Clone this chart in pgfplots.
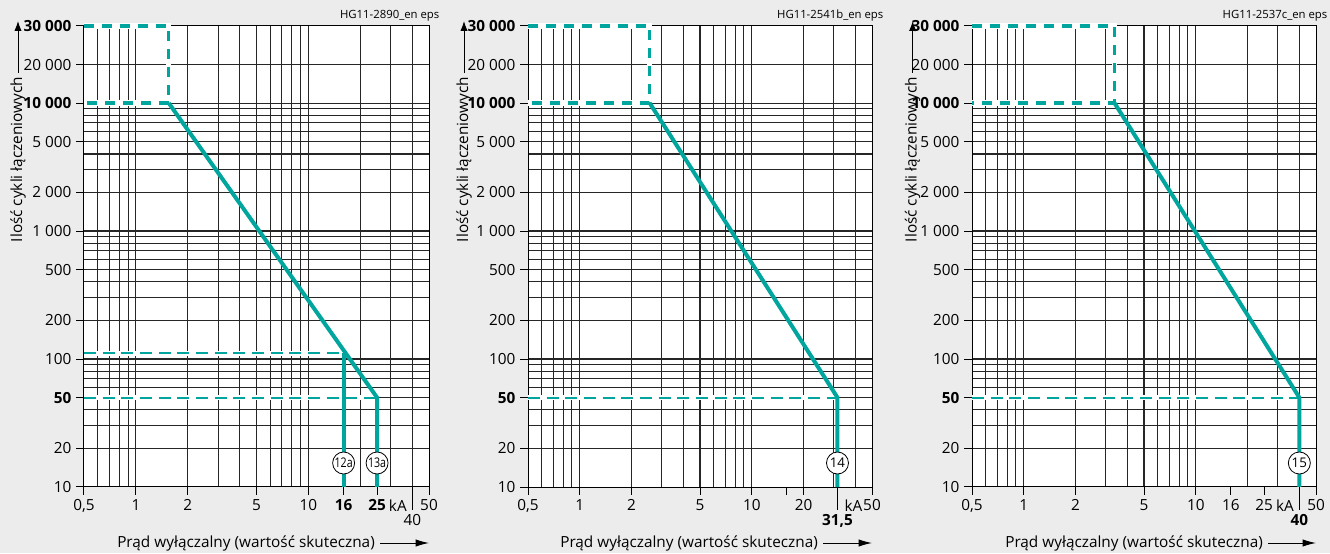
\documentclass[border=0pt]{standalone}
\usepackage{pgfplots}
\pgfplotsset{compat=1.18}
\usepackage{fontspec}
\setmainfont{Open Sans}
\usepackage{graphicx}
\usetikzlibrary{arrows.meta}

\definecolor{bgcol}{RGB}{236,236,236}
\definecolor{curvecol}{RGB}{0,166,158}

\newcommand{\lblfont}{\fontsize{11.5}{13}\selectfont}

\tikzset{
  hgdashtop/.style={curvecol, line width=2.5pt, dash pattern=on 7.5pt off 6pt},
  hgdashlow/.style={curvecol, line width=1.5pt, dash pattern=on 9pt off 5pt},
  hgunder/.style={white, line width=4pt},
  hgcurve/.style={curvecol, line width=3pt},
  hgcirc/.style={circle, draw=black, line width=0.6pt, fill=white,
               minimum size=16.5pt, inner sep=0pt, font=\fontsize{10}{10}\selectfont},
}

\begin{document}
\begin{tikzpicture}
\path[use as bounding box] (0,0) rectangle (997.5pt,414.75pt);
\clip (0,0) rectangle (997.5pt,414.75pt);
\fill[bgcol] (0,0) rectangle (997.5pt,414.75pt);

% panel 1
\begin{axis}[
  at={(63pt,49.5pt)}, anchor=south west, scale only axis, clip=false,
  width=258.75pt, height=345.75pt,
  xmode=log, ymode=log,
  xmin=0.5, xmax=50, ymin=10, ymax=40000,
  axis background/.style={fill=white},
  axis line style={black, line width=0.75pt},
  tick align=outside, tick pos=left,
  major tick length=6pt,
  major tick style={black, line width=0.75pt},
  minor tick length=0pt,
  xminorgrids=true, yminorgrids=true,
  minor grid style={black!85, line width=0.8pt},
  minor xtick={0.6,0.7,0.8,0.9,1,2,3,4,5,6,7,8,9,10,20,30,40},
  minor ytick={20,30,40,50,60,70,80,90,100,200,300,400,500,600,700,800,900,
               1000,2000,3000,4000,5000,6000,7000,8000,9000,10000,20000},
  ytick={10,20,50,100,200,500,1000,2000,5000,10000,20000,40000},
  yticklabels={10,20,\textbf{50},100,200,500,1 000,2 000,5 000,
               \textbf{10 000},20 000,\textbf{30 000}},
  tick label style={font=\lblfont},
  xtick={0.5,1,2,5,10,16,25,50},
  xticklabels={{0,5},1,2,5,10,\textbf{16},\textbf{25},50},
  extra x ticks={40}, extra x tick labels={40},
  extra x tick style={major tick length=17.25pt}]
\addplot[hgunder] coordinates {(0.5,40000) (1.55,40000) (1.55,10000) (0.5,10000)};
\addplot[hgdashtop] coordinates {(0.5,40000) (1.55,40000) (1.55,10000) (0.5,10000)};
\addplot[hgunder] coordinates {(0.5,111) (16,111)};
\addplot[hgdashlow] coordinates {(0.5,111) (16,111)};
\addplot[hgunder] coordinates {(0.5,50) (25,50)};
\addplot[hgdashlow] coordinates {(0.5,50) (25,50)};
\addplot[hgcurve] coordinates {(1.55,10000) (25,50) (25,10)};
\addplot[hgcurve] coordinates {(16,111) (16,10)};
\node[hgcirc] at (axis cs:16,15.4) {\scalebox{0.8}[1]{12a}};
\node[hgcirc] at (axis cs:25,15.4) {\scalebox{0.8}[1]{13a}};
\node[anchor=north, font=\lblfont] at ([yshift=-6pt]axis cs:33,10) {kA};
\end{axis}

% panel 2
\begin{axis}[
  at={(396pt,49.5pt)}, anchor=south west, scale only axis, clip=false,
  width=258pt, height=345.75pt,
  xmode=log, ymode=log,
  xmin=0.5, xmax=50, ymin=10, ymax=40000,
  axis background/.style={fill=white},
  axis line style={black, line width=0.75pt},
  tick align=outside, tick pos=left,
  major tick length=6pt,
  major tick style={black, line width=0.75pt},
  minor tick length=0pt,
  xminorgrids=true, yminorgrids=true,
  minor grid style={black!85, line width=0.8pt},
  minor xtick={0.6,0.7,0.8,0.9,1,2,3,4,5,6,7,8,9,10,20,30,40},
  minor ytick={20,30,40,50,60,70,80,90,100,200,300,400,500,600,700,800,900,
               1000,2000,3000,4000,5000,6000,7000,8000,9000,10000,20000},
  ytick={10,20,50,100,200,500,1000,2000,5000,10000,20000,40000},
  yticklabels={10,20,\textbf{50},100,200,500,1 000,2 000,5 000,
               \textbf{10 000},20 000,\textbf{30 000}},
  tick label style={font=\lblfont},
  xtick={0.5,1,2,5,10,16,20,50},
  xticklabels={{0,5},1,2,5,10,{},20,50},
  extra x ticks={31.5}, extra x tick labels={\textbf{31,5}},
  extra x tick style={major tick length=17.25pt}]
\addplot[hgunder] coordinates {(0.5,40000) (2.55,40000) (2.55,10000) (0.5,10000)};
\addplot[hgdashtop] coordinates {(0.5,40000) (2.55,40000) (2.55,10000) (0.5,10000)};
\addplot[hgunder] coordinates {(0.5,50) (31.5,50)};
\addplot[hgdashlow] coordinates {(0.5,50) (31.5,50)};
\addplot[hgcurve] coordinates {(2.55,10000) (31.5,50) (31.5,10)};
\node[hgcirc] at (axis cs:31.5,15.4) {14};
\node[anchor=north, font=\lblfont] at ([yshift=-6pt]axis cs:39,10) {kA};
\end{axis}

% panel 3
\begin{axis}[
  at={(729pt,49.5pt)}, anchor=south west, scale only axis, clip=false,
  width=258pt, height=345.75pt,
  xmode=log, ymode=log,
  xmin=0.5, xmax=50, ymin=10, ymax=40000,
  axis background/.style={fill=white},
  axis line style={black, line width=0.75pt},
  tick align=outside, tick pos=left,
  major tick length=6pt,
  major tick style={black, line width=0.75pt},
  minor tick length=0pt,
  xminorgrids=true, yminorgrids=true,
  minor grid style={black!85, line width=0.8pt},
  minor xtick={0.6,0.7,0.8,0.9,1,2,3,4,5,6,7,8,9,10,20,30,40},
  minor ytick={20,30,40,50,60,70,80,90,100,200,300,400,500,600,700,800,900,
               1000,2000,3000,4000,5000,6000,7000,8000,9000,10000,20000},
  ytick={10,20,50,100,200,500,1000,2000,5000,10000,20000,40000},
  yticklabels={10,20,\textbf{50},100,200,500,1 000,2 000,5 000,
               \textbf{10 000},20 000,\textbf{30 000}},
  tick label style={font=\lblfont},
  xtick={0.5,1,2,5,10,16,25,50},
  xticklabels={{0,5},1,2,5,10,16,25,50},
  extra x ticks={40}, extra x tick labels={\textbf{40}},
  extra x tick style={major tick length=17.25pt}]
\addplot[hgunder] coordinates {(0.5,40000) (3.37,40000) (3.37,10000) (0.5,10000)};
\addplot[hgdashtop] coordinates {(0.5,40000) (3.37,40000) (3.37,10000) (0.5,10000)};
\addplot[hgunder] coordinates {(0.5,50) (40,50)};
\addplot[hgdashlow] coordinates {(0.5,50) (40,50)};
\addplot[hgcurve] coordinates {(3.37,10000) (40,50) (40,10)};
\node[hgcirc] at (axis cs:40,15.4) {15};
\node[anchor=north, font=\lblfont] at ([yshift=-6pt]axis cs:33,10) {kA};
\end{axis}

% axis titles with arrows
\foreach \yx/\xx/\tip in {13.5/87.75/321.75, 348/420/654, 684.5/753.75/987} {
  \node[rotate=90, anchor=west, inner sep=0pt, font=\lblfont] (yl) at (\yx pt,233pt)
    {Ilość cykli łączeniowych};
  \draw[line width=0.75pt, -{Latex[length=7.5pt,width=5.5pt]}]
    ([yshift=3pt]yl.east) -- (\yx pt,399pt);
  \node[anchor=west, inner sep=0pt, font=\lblfont] (xl) at (\xx pt,7.5pt)
    {Prąd wyłączalny (wartość skuteczna)};
  \draw[line width=0.75pt, -{Latex[length=10pt,width=5.5pt]}]
    ([xshift=4pt]xl.east) -- (\tip pt,7.5pt);
}

\node[anchor=east, font=\fontsize{8.5}{9}\selectfont] at (333pt,402.75pt) {HG11-2890\_en eps};
\node[anchor=east, font=\fontsize{8.5}{9}\selectfont] at (666pt,402.75pt) {HG11-2541b\_en eps};
\node[anchor=west, font=\fontsize{8.5}{9}\selectfont] at (913.5pt,402.75pt) {HG11-2537c\_en eps};
\end{tikzpicture}
\end{document}
